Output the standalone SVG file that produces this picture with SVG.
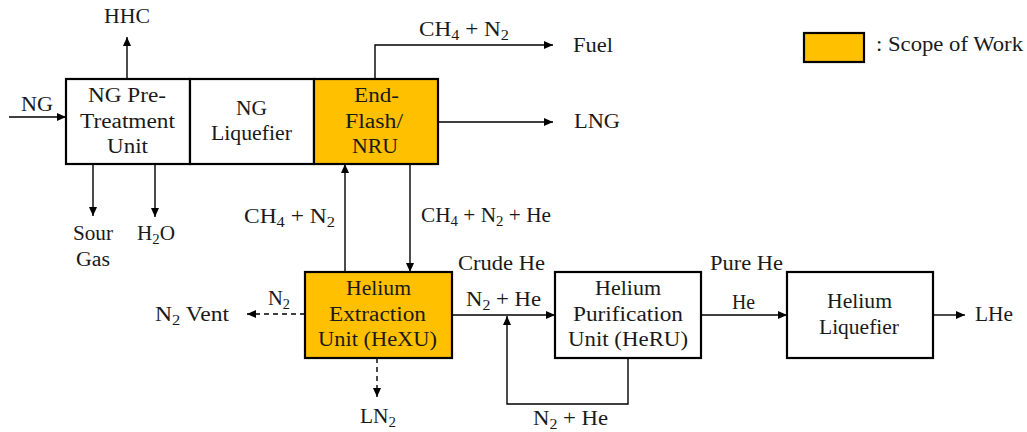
<svg xmlns="http://www.w3.org/2000/svg" width="1027" height="432" viewBox="0 0 1027 432">
<defs>
<marker id="ah" markerUnits="userSpaceOnUse" markerWidth="10" markerHeight="8" refX="9" refY="4" orient="auto"><path d="M0,0 L9,4 L0,8 z" fill="#000"/></marker>
<style>
text{font-family:"Liberation Serif","Times New Roman",serif;font-size:20px;fill:#1a1a1a}
.box{stroke:#000;stroke-width:2.2;fill:#fff}
.gold{fill:#FFC000}
.c{fill:none;stroke:#000;stroke-width:1.4}
.d{stroke-dasharray:5,4}
.s{font-size:14px}
</style>
</defs>
<rect width="1027" height="432" fill="#fff"/>
<g id="connectors">
<path class="c" d="M9,117 H66" marker-end="url(#ah)"/>
<path class="c" d="M127,79 V37" marker-end="url(#ah)"/>
<path class="c" d="M93,164 V216" marker-end="url(#ah)"/>
<path class="c" d="M155,164 V217" marker-end="url(#ah)"/>
<path class="c" d="M375,79 V45 H553" marker-end="url(#ah)"/>
<path class="c" d="M438,122 H553" marker-end="url(#ah)"/>
<path class="c" d="M345,272 V164" marker-end="url(#ah)"/>
<path class="c" d="M410,164 V272" marker-end="url(#ah)"/>
<path class="c d" d="M305,314 H247" marker-end="url(#ah)"/>
<path class="c d" d="M377,358 V397" marker-end="url(#ah)"/>
<path class="c" d="M452,315 H555" marker-end="url(#ah)"/>
<path class="c" d="M628,358 V404 H507 V316" marker-end="url(#ah)"/>
<path class="c" d="M701,315 H787" marker-end="url(#ah)"/>
<path class="c" d="M933,315 H965" marker-end="url(#ah)"/>
<text x="21" y="111" textLength="32" lengthAdjust="spacingAndGlyphs">NG</text>
<text x="104" y="23" textLength="46" lengthAdjust="spacingAndGlyphs">HHC</text>
<text x="73" y="240" textLength="40" lengthAdjust="spacingAndGlyphs">Sour</text>
<text x="76" y="266" textLength="34" lengthAdjust="spacingAndGlyphs">Gas</text>
<text x="137" y="240" textLength="38" lengthAdjust="spacingAndGlyphs">H<tspan class="s" dy="4">2</tspan><tspan dy="-4">O</tspan></text>
<text x="419" y="36" textLength="90" lengthAdjust="spacingAndGlyphs">CH<tspan class="s" dy="4">4</tspan><tspan dy="-4"> + N</tspan><tspan class="s" dy="4">2</tspan></text>
<text x="573" y="52" textLength="40" lengthAdjust="spacingAndGlyphs">Fuel</text>
<text x="574" y="128" textLength="46" lengthAdjust="spacingAndGlyphs">LNG</text>
<text x="244" y="223" textLength="91" lengthAdjust="spacingAndGlyphs">CH<tspan class="s" dy="4">4</tspan><tspan dy="-4"> + N</tspan><tspan class="s" dy="4">2</tspan></text>
<text x="421" y="222" textLength="130" lengthAdjust="spacingAndGlyphs">CH<tspan class="s" dy="4">4</tspan><tspan dy="-4"> + N</tspan><tspan class="s" dy="4">2</tspan><tspan dy="-4"> + He</tspan></text>
<text x="268" y="305" textLength="22" lengthAdjust="spacingAndGlyphs">N<tspan class="s" dy="4">2</tspan></text>
<text x="155" y="321" textLength="74" lengthAdjust="spacingAndGlyphs">N<tspan class="s" dy="4">2</tspan><tspan dy="-4"> Vent</tspan></text>
<text x="360" y="423" textLength="36" lengthAdjust="spacingAndGlyphs">LN<tspan class="s" dy="4">2</tspan></text>
<text x="458" y="270" textLength="87" lengthAdjust="spacingAndGlyphs">Crude He</text>
<text x="466" y="306" textLength="75" lengthAdjust="spacingAndGlyphs">N<tspan class="s" dy="4">2</tspan><tspan dy="-4"> + He</tspan></text>
<text x="533" y="425" textLength="75" lengthAdjust="spacingAndGlyphs">N<tspan class="s" dy="4">2</tspan><tspan dy="-4"> + He</tspan></text>
<text x="710" y="270" textLength="73" lengthAdjust="spacingAndGlyphs">Pure He</text>
<text x="732" y="309" textLength="23" lengthAdjust="spacingAndGlyphs">He</text>
<text x="975" y="321" textLength="38" lengthAdjust="spacingAndGlyphs">LHe</text>
</g>
<g id="pretreatment">
<rect class="box" x="66" y="79" width="124" height="85"/>
<text x="88" y="102" textLength="78" lengthAdjust="spacingAndGlyphs">NG Pre-</text>
<text x="80" y="128" textLength="95" lengthAdjust="spacingAndGlyphs">Treatment</text>
<text x="107" y="153" textLength="41" lengthAdjust="spacingAndGlyphs">Unit</text>
</g>
<g id="ngliquefier">
<rect class="box" x="190" y="79" width="124" height="85"/>
<text x="236" y="115" textLength="31" lengthAdjust="spacingAndGlyphs">NG</text>
<text x="211" y="140" textLength="81" lengthAdjust="spacingAndGlyphs">Liquefier</text>
</g>
<g id="nru">
<rect class="box gold" x="314" y="79" width="124" height="85"/>
<text x="354" y="102" textLength="45" lengthAdjust="spacingAndGlyphs">End-</text>
<text x="345" y="128" textLength="58" lengthAdjust="spacingAndGlyphs">Flash/</text>
<text x="352" y="153" textLength="46" lengthAdjust="spacingAndGlyphs">NRU</text>
</g>
<g id="hexu">
<rect class="box gold" x="305" y="272" width="147" height="86"/>
<text x="346" y="295" textLength="65" lengthAdjust="spacingAndGlyphs">Helium</text>
<text x="329" y="321" textLength="97" lengthAdjust="spacingAndGlyphs">Extraction</text>
<text x="318" y="346" textLength="119" lengthAdjust="spacingAndGlyphs">Unit (HeXU)</text>
</g>
<g id="heru">
<rect class="box" x="555" y="272" width="146" height="86"/>
<text x="595" y="295" textLength="66" lengthAdjust="spacingAndGlyphs">Helium</text>
<text x="573" y="321" textLength="110" lengthAdjust="spacingAndGlyphs">Purification</text>
<text x="568" y="346" textLength="120" lengthAdjust="spacingAndGlyphs">Unit (HeRU)</text>
</g>
<g id="heliquefier">
<rect class="box" x="787" y="272" width="146" height="86"/>
<text x="827" y="308" textLength="65" lengthAdjust="spacingAndGlyphs">Helium</text>
<text x="819" y="334" textLength="80" lengthAdjust="spacingAndGlyphs">Liquefier</text>
</g>
<g id="legend">
<rect class="box gold" x="804" y="33" width="60" height="29"/>
<text x="876" y="51" textLength="147" lengthAdjust="spacingAndGlyphs">: Scope of Work</text>
</g>
</svg>
